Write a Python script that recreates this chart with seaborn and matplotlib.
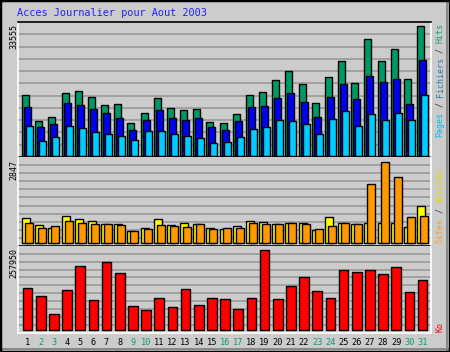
import numpy as np
import matplotlib
matplotlib.use("Agg")
import matplotlib.pyplot as plt
import seaborn as sns
from matplotlib.patches import Rectangle

# ---- data ----
days = list(range(1, 32))
weekend_days = [2, 3, 9, 10, 16, 17, 23, 24, 30, 31]
hits = [15670, 9030, 9990, 16180, 16600, 15230, 13160, 13420, 8520, 11100, 14970,
        12390, 11870, 12130, 8780, 8520, 10840, 15750, 16520, 19620, 21940, 18590,
        13680, 20390, 24520, 18840, 30200, 24520, 27620, 19880, 33555]
files = [12570, 7490, 8260, 13680, 13160, 12130, 11100, 9810, 6710, 9110, 11870,
         9810, 9290, 9810, 7490, 6710, 9030, 12650, 12910, 14970, 16260, 13940,
         10070, 15230, 18590, 14710, 20650, 19100, 19880, 13420, 24780]
pages = [7670, 3870, 4900, 7670, 7230, 6200, 5680, 5160, 4130, 6450, 6450, 5680,
         5160, 4650, 3360, 3610, 4900, 6970, 7300, 9110, 9030, 8260, 5680, 9550,
         11620, 7740, 10840, 9290, 11100, 9290, 15750]
sites = [879, 633, 527, 949, 844, 784, 678, 668, 422, 527, 844, 633, 703, 678, 527,
         492, 598, 784, 749, 678, 714, 714, 457, 914, 714, 678, 714, 714, 714, 562, 1301]
visits = [714, 538, 598, 784, 714, 689, 678, 633, 432, 503, 633, 598, 562, 668, 492,
          527, 527, 703, 678, 678, 714, 678, 492, 598, 714, 678, 2084, 2847, 2320, 914, 949]
kb = [135420, 109620, 51590, 128980, 206360, 96730, 219260, 183790, 77390, 64490,
      103180, 74160, 132200, 80610, 103180, 99960, 67710, 103180, 257950, 99960,
      141870, 170890, 125750, 103180, 193460, 187010, 193460, 180560, 203130,
      122520, 161220]
title = "Acces Journalier pour Aout 2003"

# ---- style ----
sns.set_style("white")
plt.rcParams["font.family"] = ["DejaVu Sans Mono", "DejaVu Sans"]
BG = "#CCCCCC"
GRID = "#999999"
C_HITS, C_FILES, C_PAGES = "#009966", "#0000F0", "#00CCFF"
C_SITES, C_VISITS, C_KB = "#FFFF00", "#FF9900", "#FF0000"
WEEKEND = "#119977"

fig = plt.figure(figsize=(4.5, 3.52), dpi=100, facecolor=BG)
W, H = 450.0, 352.0

def axes_px(top, bottom):
    return fig.add_axes([18 / W, 1 - bottom / H, 413 / W, (bottom - top) / H])

ax1 = axes_px(22, 157)
ax2 = axes_px(157, 246)
ax3 = axes_px(246, 332.5)

d = np.array(days, dtype=float)
px = 13.17  # pixels per day slot

def bars(ax, xs, vals, width, color):
    sns.barplot(x=xs, y=vals, native_scale=True, width=width, color=color,
                saturation=1, edgecolor="black", linewidth=1.0, errorbar=None, ax=ax)

bars(ax1, d - 2 / px, hits, 7 / px, C_HITS)
bars(ax1, d, files, 7 / px, C_FILES)
bars(ax1, d + 2 / px, pages, 7 / px, C_PAGES)

bars(ax2, d - 1.5 / px, sites, 8 / px, C_SITES)
bars(ax2, d + 1.5 / px, visits, 8 / px, C_VISITS)

bars(ax3, d, kb, 9.7 / px, C_KB)

# y scales: baselines a little above the panel bottoms
m1 = max(hits) / 130.0
ax1.set_ylim(-1.3 * m1, 133.7 * m1)
m2 = max(visits) / 81.0
ax2.set_ylim(-2.7 * m2, 86.3 * m2)
m3 = max(kb) / 80.0
ax3.set_ylim(-2.2 * m3, 84.3 * m3)

xlo = 1 - 9.5 / px
for ax in (ax1, ax2, ax3):
    ax.set_facecolor(BG)
    ax.set_xlim(xlo, xlo + 413 / px)
    lo, hi = ax.get_ylim()
    ax.set_yticks(np.linspace(lo, hi, 12)[1:-1])
    ax.yaxis.grid(True, color=GRID, linewidth=1.2)
    ax.xaxis.grid(False)
    ax.set_axisbelow(True)
    ax.tick_params(axis="y", left=False, labelleft=False)
    ax.set_ylabel("")
    ax.set_xlabel("")
    for s in ("left", "right"):
        ax.spines[s].set_color("white")
        ax.spines[s].set_linewidth(1.2)

for ax in (ax1, ax2):
    ax.tick_params(axis="x", bottom=False, labelbottom=False)

ax1.spines["top"].set_color("black")
ax1.spines["bottom"].set_color("black")
ax2.spines["top"].set_visible(False)
ax2.spines["bottom"].set_color("black")
ax3.spines["top"].set_visible(False)
ax3.spines["bottom"].set_color("white")
for ax in (ax1, ax2, ax3):
    for s in ("top", "bottom"):
        ax.spines[s].set_linewidth(1.2)

ax3.set_xticks(d)
ax3.set_xticklabels([str(x) for x in days], fontsize=6.2)
ax3.tick_params(axis="x", length=0, pad=4)
for lab, day in zip(ax3.get_xticklabels(), days):
    lab.set_color(WEEKEND if day in weekend_days else "black")

# title
fig.text(17 / W, 1 - 13.5 / H, title, color="#2222FF", fontsize=7.4,
         ha="left", va="center")

# max labels on the left
for val, top in ((max(hits), 24), (max(visits), 160), (max(kb), 248)):
    fig.text(13.5 / W, 1 - top / H, str(val), rotation=90, fontsize=6,
             ha="center", va="top", color="black")

# legends on the right, rotated, multi-coloured pieces
def vlegend(pieces, bottom_px):
    step = 4.95
    i = 0
    for txt, col in pieces:
        fig.text(440 / W, 1 - (bottom_px - i * step) / H, txt, rotation=90,
                 fontsize=6, color=col, ha="center", va="bottom")
        i += len(txt)

vlegend([("Pages", "#00BBEE"), (" / ", "#333333"), ("Fichiers", "#2A7FA8"),
         (" / ", "#333333"), ("Hits", "#1A9A70")], 137)
vlegend([("Sites", "#F0A030"), (" / ", "#333333"), ("Visites", "#E0D800")], 243)
vlegend([("Ko", "#FF0000")], 332)

# outer frame
fig.patches.append(Rectangle((0, 0), 1, 1, transform=fig.transFigure, fill=False,
                             edgecolor="black", linewidth=2.5, zorder=10))
fig.patches.append(Rectangle((446 / W, 0), 2 / W, 1, transform=fig.transFigure,
                             facecolor="#888888", edgecolor="none", zorder=9))
fig.patches.append(Rectangle((0, 2 / H), 1, 2 / H, transform=fig.transFigure,
                             facecolor="#888888", edgecolor="none", zorder=9))

fig.savefig("out.png", dpi=100, facecolor=BG)
